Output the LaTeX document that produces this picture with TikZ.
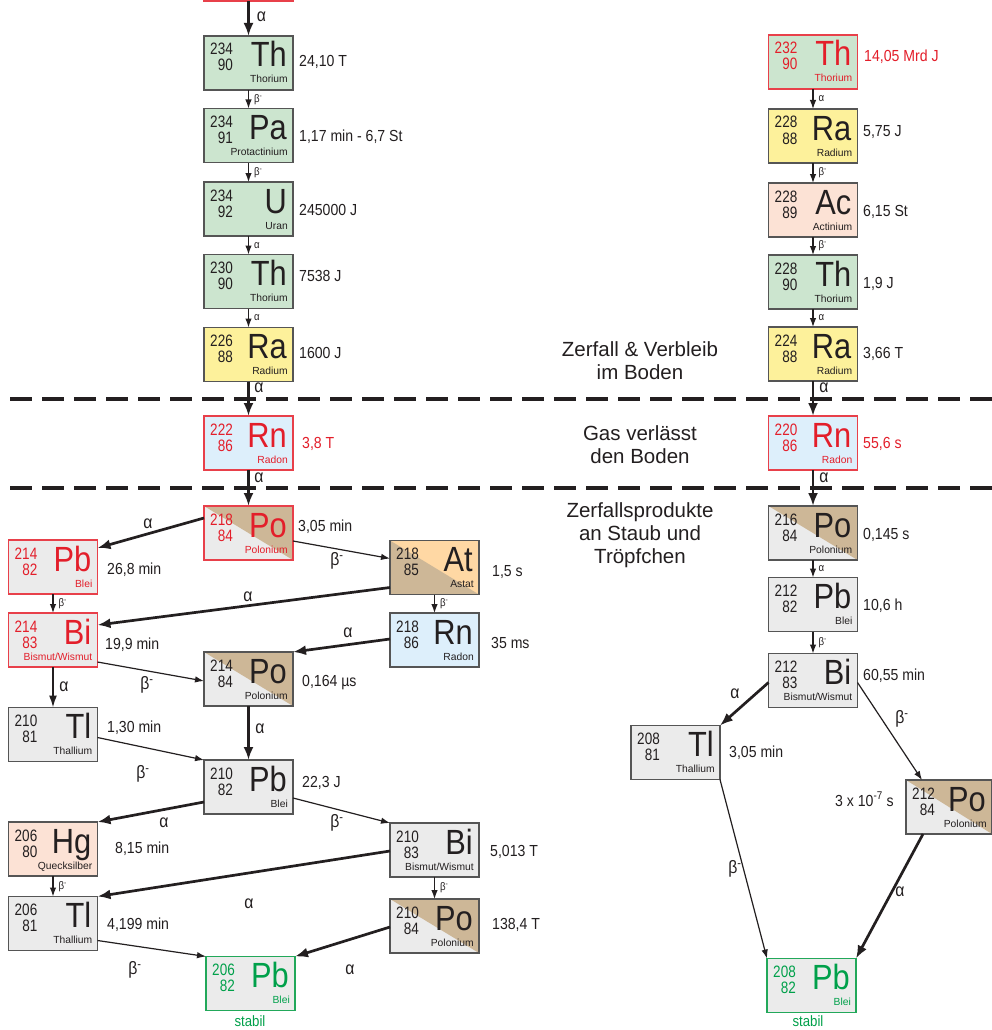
\documentclass[tikz,border=0pt]{standalone}
\usepackage{fontspec}
\setmainfont{Liberation Sans}[FakeStretch=0.88]
\newfontfamily\numf{Liberation Sans}[FakeStretch=0.82]
\newfontfamily\widef{Liberation Sans}
\usetikzlibrary{arrows.meta,calc}
\definecolor{txt}{HTML}{231F20}
\definecolor{tred}{HTML}{E31E2A}
\definecolor{bred}{HTML}{E8404A}
\definecolor{tgreen}{HTML}{00A04A}
\definecolor{bgreen}{HTML}{22A85A}
\definecolor{bordergray}{HTML}{555555}
\definecolor{fgreen}{HTML}{CCE5CF}
\definecolor{fyellow}{HTML}{FDF19B}
\definecolor{fpeach}{HTML}{FCE2D5}
\definecolor{fblue}{HTML}{DDEFFB}
\definecolor{fgray}{HTML}{EBEBEB}
\definecolor{fbrown}{HTML}{CDB797}
\definecolor{forange}{HTML}{FFD8A4}
\tikzset{
  box/.style={draw=bordergray, line width=1.1pt, minimum width=89pt, minimum height=54pt, inner sep=0pt, outer sep=0pt},
  gr/.style={fill=fgreen}, ye/.style={fill=fyellow}, pe/.style={fill=fpeach},
  bl/.style={fill=fblue}, gy/.style={fill=fgray},
  redb/.style={draw=bred}, greenb/.style={draw=bgreen},
  posplit/.style={fill=fgray, path picture={\fill[fbrown] (path picture bounding box.north west) -- (path picture bounding box.north east) -- (path picture bounding box.south east) -- cycle;}},
  atsplit/.style={fill=forange, path picture={\fill[fbrown] (path picture bounding box.north west) -- (path picture bounding box.south west) -- (path picture bounding box.south east) -- cycle;}},
  mnum/.style={font=\numf\fontsize{16.5}{18}\selectfont, inner sep=0pt, anchor=base east},
  symb/.style={font=\fontsize{35}{40}\selectfont, inner sep=0pt, anchor=base east},
  ename/.style={font=\widef\fontsize{10.3}{12}\selectfont, inner sep=0pt, anchor=base east},
  hl/.style={font=\fontsize{16}{18}\selectfont, text=txt, inner sep=0pt, anchor=base west},
  blab/.style={font=\fontsize{18}{20}\selectfont, text=txt, inner sep=0pt},
  slab/.style={font=\fontsize{11}{12}\selectfont, text=txt, inner sep=0pt, anchor=west, xshift=5pt},
  ctext/.style={font=\widef\fontsize{20.5}{23}\selectfont, text=txt, align=center, inner sep=0pt},
  stab/.style={font=\fontsize{15}{17}\selectfont, text=tgreen, inner sep=0pt},
  tarr/.style={draw=txt, line width=1.2pt, -{Latex[length=9pt,width=6.5pt]}},
  marr/.style={draw=txt, line width=1.7pt, -{Latex[length=12pt,width=8pt]}},
  karr/.style={draw=txt, line width=2.7pt, -{Latex[length=13pt,width=10pt]}},
  sepline/.style={draw=txt, line width=3.5pt, dash pattern=on 22pt off 10pt},
}
\newcommand\iso[8]{%
  \node[box,#3] (#1) at #2 {};
  \node[mnum,text=#8] (#1m) at ($(#1.north west)+(29,19)$) {#4};
  \node[mnum,text=#8] (#1z) at ($(#1.north west)+(29,35)$) {#5};
  \node[symb,text=#8] (#1s) at ($(#1.north east)+(-6,31)$) {#6};
  \node[ename,text=#8] (#1n) at ($(#1.north east)+(-5,47)$) {#7};
}
\newcommand\bm{β\textsuperscript{-}}
\begin{document}
\begin{tikzpicture}[x=1pt,y=-1pt]
\useasboundingbox (0,0) rectangle (992,1030);
\clip (0,0) rectangle (992,1030);
\fill[white] (0,0) rectangle (992,1030);

% separators
\draw[sepline] (10,399) -- (992,399);
\draw[sepline] (10,488) -- (992,488);

% centre texts
\node[ctext] (c1) at (640,361) {Zerfall \& Verbleib\\im Boden};
\node[ctext] (c2) at (640,444.5) {Gas verlässt\\den Boden};
\node[ctext] (c3) at (640,535) {Zerfallsprodukte\\an Staub und\\Tröpfchen};

% ---------- left chain ----------
\node[box,redb,fill=white,line width=1.5pt] (U238) at (248.5,-26) {};
\iso{Th234}{(248.5,63)}{gr}{234}{90}{Th}{Thorium}{txt}
\iso{Pa234}{(248.5,135.5)}{gr}{234}{91}{Pa}{Protactinium}{txt}
\iso{U234}{(248.5,209)}{gr}{234}{92}{U}{Uran}{txt}
\iso{Th230}{(248.5,281.5)}{gr}{230}{90}{Th}{Thorium}{txt}
\iso{Ra226}{(248.5,354.5)}{ye}{226}{88}{Ra}{Radium}{txt}
\iso{Rn222}{(248.5,443)}{bl,redb}{222}{86}{Rn}{Radon}{tred}
\iso{Po218}{(248.5,533)}{posplit,redb}{218}{84}{Po}{Polonium}{tred}
\iso{Pb214}{(53,567)}{gy,redb}{214}{82}{Pb}{Blei}{tred}
\iso{Bi214}{(53,640)}{gy,redb}{214}{83}{Bi}{Bismut/Wismut}{tred}
\iso{At218}{(434.5,567.5)}{atsplit}{218}{85}{At}{Astat}{txt}
\iso{Rn218}{(434.5,640)}{bl}{218}{86}{Rn}{Radon}{txt}
\iso{Po214}{(248.5,679)}{posplit}{214}{84}{Po}{Polonium}{txt}
\iso{Tl210}{(53,734.5)}{gy}{210}{81}{Tl}{Thallium}{txt}
\iso{Pb210}{(248.5,787)}{gy}{210}{82}{Pb}{Blei}{txt}
\iso{Hg206}{(53,849)}{pe}{206}{80}{Hg}{Quecksilber}{txt}
\iso{Bi210}{(434.5,850)}{gy}{210}{83}{Bi}{Bismut/Wismut}{txt}
\iso{Tl206}{(53,923.5)}{gy}{206}{81}{Tl}{Thallium}{txt}
\iso{Po210}{(434.5,926)}{posplit}{210}{84}{Po}{Polonium}{txt}
\iso{Pb206}{(250.5,983.5)}{gy,greenb}{206}{82}{Pb}{Blei}{tgreen}
\node[stab] (st1) at (250,1021) {stabil};

% half-lives left
\node[hl] (h1) at (299,67) {24,10 T};
\node[hl] (h2) at (299,142) {1,17 min - 6,7 St};
\node[hl] (h3) at (299,215.5) {245000 J};
\node[hl] (h4) at (299,281.5) {7538 J};
\node[hl] (h5) at (299,358) {1600 J};
\node[hl,text=tred] (h6) at (302,448) {3,8 T};
\node[hl] (h7) at (298,531) {3,05 min};
\node[hl] (h8) at (107,574) {26,8 min};
\node[hl] (h9) at (105,649) {19,9 min};
\node[hl] (h10) at (302,686) {0,164 µs};
\node[hl] (h11) at (492,576) {1,5 s};
\node[hl] (h12) at (491,648) {35 ms};
\node[hl] (h13) at (107,732) {1,30 min};
\node[hl] (h14) at (302,787) {22,3 J};
\node[hl] (h15) at (115,853) {8,15 min};
\node[hl] (h16) at (490,856) {5,013 T};
\node[hl] (h17) at (107,929) {4,199 min};
\node[hl] (h18) at (492,929) {138,4 T};

% connectors left
\draw[karr] (U238) -- (Th234);
\node[blab] (a1) at (261.5,16.5) {α};
\draw[tarr] (Th234) -- node[slab] (a2) {\bm} (Pa234);
\draw[tarr] (Pa234) -- node[slab] (a3) {\bm} (U234);
\draw[tarr] (U234) -- node[slab] (a4) {α} (Th230);
\draw[tarr] (Th230) -- node[slab] (a5) {α} (Ra226);
\draw[karr] (Ra226) -- (Rn222);
\node[blab] (a6) at (259,388) {α};
\draw[karr] (Rn222) -- (Po218);
\node[blab] (a7) at (259,478) {α};
\draw[karr] ([yshift=-12pt]Po218.north west) -- ([yshift=-8pt]Pb214.north east);
\node[blab] (a8) at (148,524) {α};
\draw[tarr] ([yshift=-35pt]Po218.north east) -- ([yshift=-18pt]At218.north west);
\node[blab] (a9) at (337,561) {\bm};
\draw[karr] ([yshift=-47pt]At218.north west) -- ([yshift=-12pt]Bi214.north east);
\node[blab] (a10) at (248,597) {α};
\draw[tarr] (At218) -- node[slab] (a11) {\bm} (Rn218);
\draw[karr] ([yshift=-26pt]Rn218.north west) -- (Po214.north east);
\node[blab] (a12) at (348,633) {α};
\draw[tarr] (Pb214) -- node[slab] (a13) {\bm} (Bi214);
\draw[tarr] ([yshift=-49pt]Bi214.north east) -- ([yshift=-29pt]Po214.north west);
\node[blab] (a14) at (147,685) {\bm};
\draw[marr] (Bi214) -- (Tl210);
\node[blab] (a15) at (64,687) {α};
\draw[karr] (Po214) -- (Pb210);
\node[blab] (a16) at (260,729) {α};
\draw[tarr] ([yshift=-30pt]Tl210.north east) -- (Pb210.north west);
\node[blab] (a17) at (143,774) {\bm};
\draw[karr] ([yshift=-42pt]Pb210.north west) -- (Hg206.north east);
\node[blab] (a18) at (164,823) {α};
\draw[tarr] ([yshift=-38pt]Pb210.north east) -- (Bi210.north west);
\node[blab] (a19) at (337,823) {\bm};
\draw[tarr] (Hg206) -- node[slab] (a20) {\bm} (Tl206);
\draw[karr] ([yshift=-28pt]Bi210.north west) -- (Tl206.north east);
\node[blab] (a21) at (249,904) {α};
\draw[tarr] (Bi210) -- node[slab] (a22) {\bm} (Po210);
\draw[tarr] ([yshift=-44pt]Tl206.north east) -- (Pb206.north west);
\node[blab] (a23) at (135,970) {\bm};
\draw[karr] ([yshift=-28pt]Po210.north west) -- (Pb206.north east);
\node[blab] (a24) at (350,970) {α};

% ---------- right chain ----------
\iso{Th232}{(813,62)}{gr,redb}{232}{90}{Th}{Thorium}{tred}
\iso{Ra228}{(813,136)}{ye}{228}{88}{Ra}{Radium}{txt}
\iso{Ac228}{(813,210)}{pe}{228}{89}{Ac}{Actinium}{txt}
\iso{Th228}{(813,282)}{gr}{228}{90}{Th}{Thorium}{txt}
\iso{Ra224}{(813,354)}{ye}{224}{88}{Ra}{Radium}{txt}
\iso{Rn220}{(813,443)}{bl,redb}{220}{86}{Rn}{Radon}{tred}
\iso{Po216}{(813,533)}{posplit}{216}{84}{Po}{Polonium}{txt}
\iso{Pb212}{(813,604.5)}{gy}{212}{82}{Pb}{Blei}{txt}
\iso{Bi212}{(813,680.5)}{gy}{212}{83}{Bi}{Bismut/Wismut}{txt}
\iso{Tl208}{(675.5,752.5)}{gy}{208}{81}{Tl}{Thallium}{txt}
\iso{Po212}{(949,807)}{posplit,minimum width=86pt}{212}{84}{Po}{Polonium}{txt}
\iso{Pb208}{(811.5,985.5)}{gy,greenb}{208}{82}{Pb}{Blei}{tgreen}
\node[stab] (st2) at (808,1021) {stabil};

% half-lives right
\node[hl,text=tred] (r1) at (864,62) {14,05 Mrd J};
\node[hl] (r2) at (863,136) {5,75 J};
\node[hl] (r3) at (863,216) {6,15 St};
\node[hl] (r4) at (863,288) {1,9 J};
\node[hl] (r5) at (863,358) {3,66 T};
\node[hl,text=tred] (r6) at (863,448) {55,6 s};
\node[hl] (r7) at (863,539) {0,145 s};
\node[hl] (r8) at (863,610) {10,6 h};
\node[hl] (r9) at (863,680) {60,55 min};
\node[hl] (r10) at (729,757) {3,05 min};
\node[hl] (r11) at (835,806) {3 x 10\textsuperscript{-7} s};

% connectors right
\draw[tarr] (Th232) -- node[slab] (b1) {α} (Ra228);
\draw[tarr] (Ra228) -- node[slab] (b2) {\bm} (Ac228);
\draw[tarr] (Ac228) -- node[slab] (b3) {\bm} (Th228);
\draw[tarr] (Th228) -- node[slab] (b4) {α} (Ra224);
\draw[karr] (Ra224) -- (Rn220);
\node[blab] (b5) at (824,388) {α};
\draw[karr] (Rn220) -- (Po216);
\node[blab] (b6) at (824,478) {α};
\draw[tarr] (Po216) -- node[slab] (b7) {α} (Pb212);
\draw[tarr] (Pb212) -- node[slab] (b8) {\bm} (Bi212);
\draw[karr] ([yshift=-29pt]Bi212.north west) -- (Tl208.north east);
\node[blab] (b9) at (735,694) {α};
\draw[tarr] ([yshift=-29pt]Bi212.north east) -- ([xshift=16pt]Po212.north west);
\node[blab] (b10) at (902,719) {\bm};
\draw[tarr] (Tl208.south east) -- (Pb208.north west);
\node[blab] (b11) at (735,869) {\bm};
\draw[karr] ([xshift=17pt]Po212.south west) -- (Pb208.north east);
\node[blab] (b12) at (900,892) {α};
\end{tikzpicture}
\end{document}
